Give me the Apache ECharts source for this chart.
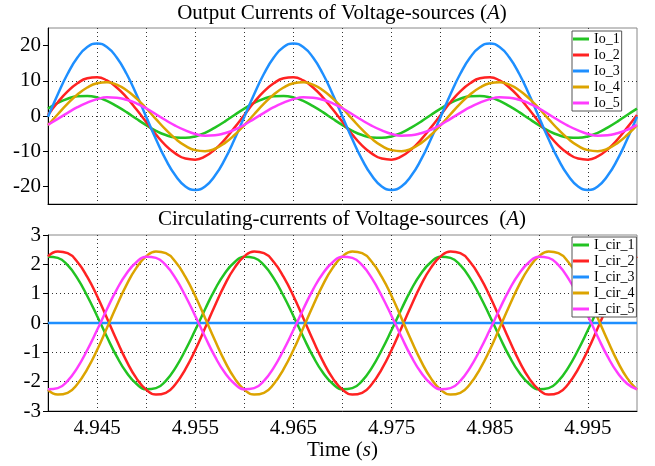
<!DOCTYPE html>
<html>
<head>
<meta charset="utf-8">
<script src="https://cdn.jsdelivr.net/npm/echarts@6.0.0/dist/echarts.min.js"></script>
<style>
  html, body { margin: 0; padding: 0; background: #fff; }
  #chart { width: 655px; height: 466px; }
</style>
</head>
<body>
<div id="chart"></div>
<script>
// sample grid: 4.940 s .. 5.000 s, one point per ms
const tStart = 4.94;
const tStep = 0.001;
const time = [];
for (let i = 0; i <= 60; i++) time.push(+(tStart + i * tStep).toFixed(3));

// output currents (A)
const io1 = [
  2.1, 3.7, 4.9, 5.6, 5.7, 5.3, 4.3, 2.8, 1.1, -0.8, -2.6, -4.2, -5.4, -6.1, -6.2, -5.8, -4.8, -3.3, -1.6, 0.3,
  2.1, 3.7, 4.9, 5.6, 5.7, 5.3, 4.3, 2.8, 1.1, -0.8, -2.6, -4.2, -5.4, -6.1, -6.2, -5.8, -4.8, -3.3, -1.6, 0.3,
  2.1, 3.7, 4.9, 5.6, 5.7, 5.3, 4.3, 2.8, 1.1, -0.8, -2.6, -4.2, -5.4, -6.1, -6.2, -5.8, -4.8, -3.3, -1.6, 0.3,
  2.1
];
const io2 = [
  0.3, 3.9, 7.0, 9.3, 10.7, 11.0, 10.1, 8.1, 5.3, 1.9, -1.7, -5.3, -8.4, -10.7, -12.1, -12.4, -11.5, -9.5, -6.7, -3.3,
  0.3, 3.9, 7.0, 9.3, 10.7, 11.0, 10.1, 8.1, 5.3, 1.9, -1.7, -5.3, -8.4, -10.7, -12.1, -12.4, -11.5, -9.5, -6.7, -3.3,
  0.3, 3.9, 7.0, 9.3, 10.7, 11.0, 10.1, 8.1, 5.3, 1.9, -1.7, -5.3, -8.4, -10.7, -12.1, -12.4, -11.5, -9.5, -6.7, -3.3,
  0.3
];
const io3 = [
  -0.2, 6.2, 12.0, 16.6, 19.6, 20.6, 19.6, 16.6, 12.0, 6.2, -0.2, -6.6, -12.4, -17.0, -20.0, -21.0, -20.0, -17.0, -12.4, -6.6,
  -0.2, 6.2, 12.0, 16.6, 19.6, 20.6, 19.6, 16.6, 12.0, 6.2, -0.2, -6.6, -12.4, -17.0, -20.0, -21.0, -20.0, -17.0, -12.4, -6.6,
  -0.2, 6.2, 12.0, 16.6, 19.6, 20.6, 19.6, 16.6, 12.0, 6.2, -0.2, -6.6, -12.4, -17.0, -20.0, -21.0, -20.0, -17.0, -12.4, -6.6,
  -0.2
];
const io4 = [
  -2.6, 0.5, 3.5, 6.1, 8.1, 9.3, 9.6, 8.9, 7.3, 5.0, 2.2, -0.9, -3.9, -6.5, -8.5, -9.7, -10.0, -9.3, -7.7, -5.4,
  -2.6, 0.5, 3.5, 6.1, 8.1, 9.3, 9.6, 8.9, 7.3, 5.0, 2.2, -0.9, -3.9, -6.5, -8.5, -9.7, -10.0, -9.3, -7.7, -5.4,
  -2.6, 0.5, 3.5, 6.1, 8.1, 9.3, 9.6, 8.9, 7.3, 5.0, 2.2, -0.9, -3.9, -6.5, -8.5, -9.7, -10.0, -9.3, -7.7, -5.4,
  -2.6
];
const io5 = [
  -2.5, -0.8, 0.9, 2.5, 3.8, 4.8, 5.3, 5.2, 4.6, 3.6, 2.2, 0.5, -1.2, -2.8, -4.1, -5.1, -5.6, -5.5, -4.9, -3.9,
  -2.5, -0.8, 0.9, 2.5, 3.8, 4.8, 5.3, 5.2, 4.6, 3.6, 2.2, 0.5, -1.2, -2.8, -4.1, -5.1, -5.6, -5.5, -4.9, -3.9,
  -2.5, -0.8, 0.9, 2.5, 3.8, 4.8, 5.3, 5.2, 4.6, 3.6, 2.2, 0.5, -1.2, -2.8, -4.1, -5.1, -5.6, -5.5, -4.9, -3.9,
  -2.5
];

// circulating currents (A)
const iCir1 = [
  2.26, 2.22, 1.97, 1.52, 0.92, 0.24, -0.47, -1.14, -1.69, -2.07, -2.26, -2.22, -1.97, -1.52, -0.92, -0.24, 0.47, 1.14, 1.69, 2.07,
  2.26, 2.22, 1.97, 1.52, 0.92, 0.24, -0.47, -1.14, -1.69, -2.07, -2.26, -2.22, -1.97, -1.52, -0.92, -0.24, 0.47, 1.14, 1.69, 2.07,
  2.26, 2.22, 1.97, 1.52, 0.92, 0.24, -0.47, -1.14, -1.69, -2.07, -2.26, -2.22, -1.97, -1.52, -0.92, -0.24, 0.47, 1.14, 1.69, 2.07,
  2.26
];
const iCir2 = [
  2.27, 2.44, 2.38, 2.08, 1.57, 0.92, 0.17, -0.59, -1.30, -1.88, -2.27, -2.44, -2.38, -2.08, -1.57, -0.92, -0.17, 0.59, 1.30, 1.88,
  2.27, 2.44, 2.38, 2.08, 1.57, 0.92, 0.17, -0.59, -1.30, -1.88, -2.27, -2.44, -2.38, -2.08, -1.57, -0.92, -0.17, 0.59, 1.30, 1.88,
  2.27, 2.44, 2.38, 2.08, 1.57, 0.92, 0.17, -0.59, -1.30, -1.88, -2.27, -2.44, -2.38, -2.08, -1.57, -0.92, -0.17, 0.59, 1.30, 1.88,
  2.27
];
const iCir3 = [
  0, 0, 0, 0, 0, 0, 0, 0, 0, 0, 0, 0, 0, 0, 0, 0, 0, 0, 0, 0,
  0, 0, 0, 0, 0, 0, 0, 0, 0, 0, 0, 0, 0, 0, 0, 0, 0, 0, 0, 0,
  0, 0, 0, 0, 0, 0, 0, 0, 0, 0, 0, 0, 0, 0, 0, 0, 0, 0, 0, 0,
  0
];
const iCir4 = [
  -2.27, -2.44, -2.38, -2.08, -1.57, -0.92, -0.17, 0.59, 1.30, 1.88, 2.27, 2.44, 2.38, 2.08, 1.57, 0.92, 0.17, -0.59, -1.30, -1.88,
  -2.27, -2.44, -2.38, -2.08, -1.57, -0.92, -0.17, 0.59, 1.30, 1.88, 2.27, 2.44, 2.38, 2.08, 1.57, 0.92, 0.17, -0.59, -1.30, -1.88,
  -2.27, -2.44, -2.38, -2.08, -1.57, -0.92, -0.17, 0.59, 1.30, 1.88, 2.27, 2.44, 2.38, 2.08, 1.57, 0.92, 0.17, -0.59, -1.30, -1.88,
  -2.27
];
const iCir5 = [
  -2.26, -2.22, -1.97, -1.52, -0.92, -0.24, 0.47, 1.14, 1.69, 2.07, 2.26, 2.22, 1.97, 1.52, 0.92, 0.24, -0.47, -1.14, -1.69, -2.07,
  -2.26, -2.22, -1.97, -1.52, -0.92, -0.24, 0.47, 1.14, 1.69, 2.07, 2.26, 2.22, 1.97, 1.52, 0.92, 0.24, -0.47, -1.14, -1.69, -2.07,
  -2.26, -2.22, -1.97, -1.52, -0.92, -0.24, 0.47, 1.14, 1.69, 2.07, 2.26, 2.22, 1.97, 1.52, 0.92, 0.24, -0.47, -1.14, -1.69, -2.07,
  -2.26
];

const topNames = ['Io_1', 'Io_2', 'Io_3', 'Io_4', 'Io_5'];
const bottomNames = ['I_cir_1', 'I_cir_2', 'I_cir_3', 'I_cir_4', 'I_cir_5'];
const topTicks = [-20, -10, 0, 10, 20];
const colors = ['#22c322', '#ff2222', '#1e8fff', '#dca400', '#ff3cff'];

const font = 'Liberation Serif';
const dotted = { show: true, showMinLine: false, showMaxLine: false, lineStyle: { color: '#333', type: [1, 3], width: 1 } };
const blackLine = { show: true, onZero: false, lineStyle: { color: '#000', width: 1 } };
const italic = { i: { fontStyle: 'italic', fontFamily: font, fontSize: 21, color: '#000' } };

function xTickLabel(v) {
  const m = Math.round(v * 1000);
  return m % 10 === 5 ? (m / 1000).toFixed(3) : '';
}

function line(name, values, color, idx) {
  return {
    name: name,
    type: 'line',
    xAxisIndex: idx,
    yAxisIndex: idx,
    data: values.map((v, i) => [time[i], v]),
    showSymbol: false,
    smooth: true,
    color: color,
    lineStyle: { width: 2.5, color: color },
    emphasis: { disabled: true }
  };
}

function legendFor(names, top) {
  return {
    data: names,
    orient: 'vertical',
    left: 572,
    top: top,
    icon: 'rect',
    itemWidth: 16,
    itemHeight: 3,
    itemGap: 0,
    padding: [0, 2, 0, 1],
    backgroundColor: '#fff',
    borderColor: '#555',
    borderWidth: 1,
    borderRadius: 0,
    textStyle: { fontFamily: font, fontSize: 14, lineHeight: 16, color: '#000' }
  };
}

const chart = echarts.init(document.getElementById('chart'));
chart.setOption({
  animation: false,
  backgroundColor: '#fff',
  textStyle: { fontFamily: font, color: '#000' },
  title: [
    {
      text: 'Output Currents of Voltage-sources ({i|A})',
      left: 342, top: 3, textAlign: 'center', padding: 0,
      textStyle: { fontFamily: font, fontSize: 21, fontWeight: 'normal', color: '#000', rich: italic }
    },
    {
      text: 'Circulating-currents of Voltage-sources  ({i|A})',
      left: 342, top: 209, textAlign: 'center', padding: 0,
      textStyle: { fontFamily: font, fontSize: 21, fontWeight: 'normal', color: '#000', rich: italic }
    }
  ],
  legend: [legendFor(topNames, 31), legendFor(bottomNames, 237)],
  grid: [
    { left: 48, top: 28, width: 589, height: 176, show: true, borderColor: '#888', borderWidth: 1 },
    { left: 48, top: 235, width: 589, height: 176, show: true, borderColor: '#888', borderWidth: 1 }
  ],
  xAxis: [
    {
      gridIndex: 0, type: 'value', min: 4.94, max: 5.0, interval: 0.005,
      axisLine: blackLine, axisTick: { show: false }, axisLabel: { show: false },
      splitLine: dotted
    },
    {
      gridIndex: 1, type: 'value', min: 4.94, max: 5.0, interval: 0.005,
      axisLine: blackLine, axisTick: { show: false },
      axisLabel: { fontFamily: font, fontSize: 21, color: '#000', margin: 7, formatter: xTickLabel },
      splitLine: dotted,
      name: 'Time ({i|s})', nameLocation: 'middle', nameGap: 27,
      nameTextStyle: { fontFamily: font, fontSize: 21, color: '#000', rich: italic }
    }
  ],
  yAxis: [
    {
      gridIndex: 0, type: 'value', min: -25, max: 25,
      axisLine: blackLine,
      axisTick: { show: true, length: 5, customValues: topTicks, lineStyle: { color: '#000' } },
      axisLabel: { customValues: topTicks, fontFamily: font, fontSize: 21, color: '#000', margin: 7 },
      splitLine: dotted
    },
    {
      gridIndex: 1, type: 'value', min: -3, max: 3, interval: 1,
      axisLine: blackLine,
      axisTick: { show: true, length: 5, lineStyle: { color: '#000' } },
      axisLabel: { fontFamily: font, fontSize: 21, color: '#000', margin: 7 },
      splitLine: dotted
    }
  ],
  series: [
    line(topNames[0], io1, colors[0], 0),
    line(topNames[1], io2, colors[1], 0),
    line(topNames[2], io3, colors[2], 0),
    line(topNames[3], io4, colors[3], 0),
    line(topNames[4], io5, colors[4], 0),
    line(bottomNames[0], iCir1, colors[0], 1),
    line(bottomNames[1], iCir2, colors[1], 1),
    line(bottomNames[2], iCir3, colors[2], 1),
    line(bottomNames[3], iCir4, colors[3], 1),
    line(bottomNames[4], iCir5, colors[4], 1)
  ]
});
</script>
</body>
</html>
